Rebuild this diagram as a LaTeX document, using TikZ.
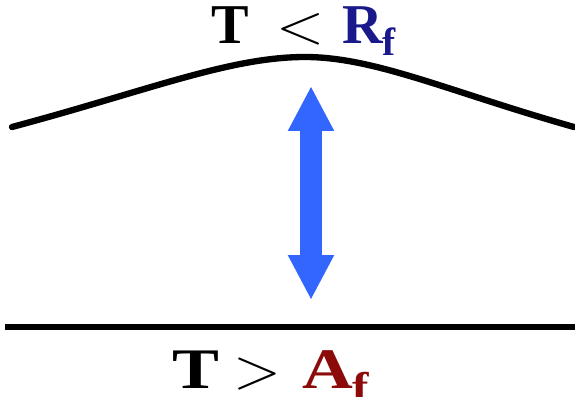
\documentclass[tikz,border=0pt]{standalone}
\usepackage{fontspec}
\setmainfont{Liberation Serif}
\usetikzlibrary{arrows.meta}

\newcommand{\bigrel}[1]{\scalebox{1.45}[1.3]{$#1$}}

\begin{document}
\begin{tikzpicture}[x=0.02cm, y=-0.02cm,
          every node/.style={font=\fontsize{32}{35}\selectfont\bfseries, inner sep=0pt},
          wire/.style={line width=3.6pt, line cap=round},
          gap/.style={draw=arrowblue, line width=13pt,
            {Triangle[width=0.86cm, length=0.9cm]}-{Triangle[width=0.86cm, length=0.9cm]}},
        ]
          \definecolor{arrowblue}{RGB}{51,102,255}
          \definecolor{rfblue}{RGB}{25,25,140}
          \definecolor{afred}{RGB}{140,10,10}
          \useasboundingbox (0,0) rectangle (575,396);
          % barrier curve
          \coordinate (c1) at ( 12, 127);
          \coordinate (c2) at (305,  57);
          \coordinate (c3) at (574, 127);
          \draw[wire] (c1) .. controls (150, 90) and (230, 57) .. (c2)
                           .. controls (375, 57) and (450, 92) .. (c3);
          % ground line
          \coordinate (g1) at (  5, 327);
          \coordinate (g2) at (575, 327);
          \draw[wire, line cap=butt] (g1) -- (g2);
          % double arrow
          \coordinate (up) at (311,  86);
          \coordinate (dn) at (311, 300);
          \draw[gap] (dn) -- (up);
          % labels
          \node[anchor=base west] (top) at (211, 43)
            {T\hspace{0.5em}\bigrel{<}\hspace{0.3em}\textcolor{rfblue}{R\textsubscript{f}}};
          \node[anchor=base west] (bot) at (172, 388)
            {\scalebox{1.25}[1.02]{T\hspace{0.2em}\scalebox{1.15}[1.3]{$>$}\hspace{0.3em}\textcolor{afred}{A\textsubscript{f}}}};
        \end{tikzpicture}
\end{document}
